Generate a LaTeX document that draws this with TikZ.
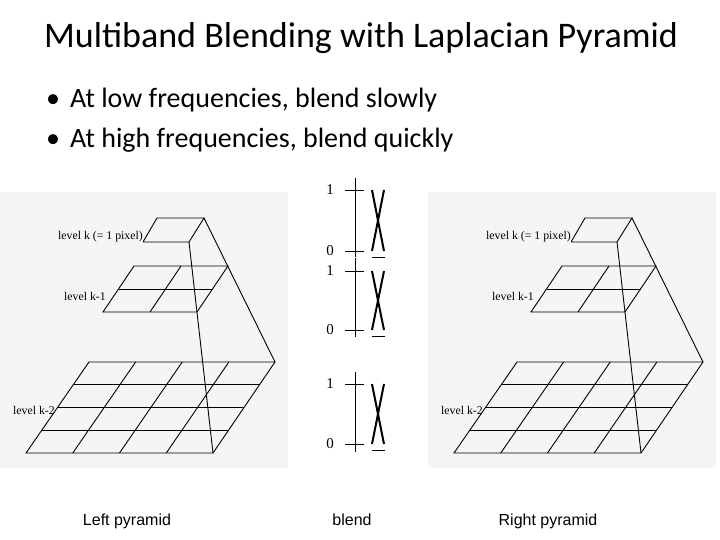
\documentclass[tikz,border=0pt]{standalone}
\usepackage{fontspec}
\setmainfont{Carlito}
\newfontfamily\tnr{Liberation Serif}
\newfontfamily\arl{Liberation Sans}
\definecolor{pbg}{RGB}{244,246,244}
\begin{document}
\begin{tikzpicture}[x=1pt,y=-1pt,
  lab/.style={font=\tnr\fontsize{11.8}{12}\selectfont,inner sep=0pt},
  num/.style={font=\tnr\fontsize{15}{16}\selectfont,inner sep=0pt},
  captext/.style={font=\arl\fontsize{16}{18}\selectfont,inner sep=0pt,anchor=base},
  gl/.style={line width=0.9pt},
  xl/.style={line width=2pt}]
\useasboundingbox[fill=white] (0,0) rectangle (720,540);
\node[anchor=west,inner sep=0pt,font=\fontsize{36}{40}\selectfont] (title) at (44,38) {Multiband Blending with Laplacian Pyramid};
\node[anchor=west,inner sep=0pt,font=\fontsize{28}{32}\selectfont] (b1) at (46,100) {\textbullet\hspace{10pt}At low frequencies, blend slowly};
\node[anchor=west,inner sep=0pt,font=\fontsize{28}{32}\selectfont] (b2) at (46,140) {\textbullet\hspace{10pt}At high frequencies, blend quickly};
\foreach \s/\nm in {0/L,428/R}{
\begin{scope}[xshift=\s]
\fill[pbg] (0,192) rectangle (288,468);
% top
\draw[gl] (157,218) -- (204,218) -- (189,242) -- (143,242) -- cycle;
% k-1
\draw[gl] (134,266) -- (228,266) -- (197,312) -- (103,312) -- cycle;
\draw[gl] (118.5,289) -- (212.5,289);
\draw[gl] (181,266) -- (150,312);
% k-2
\draw[gl] (89,362) -- (275,362) -- (213,453) -- (26,453) -- cycle;
\foreach \i in {1,2,3}{
  \draw[gl] ({89-63*\i/4},{362+91*\i/4}) -- ({275-62*\i/4},{362+91*\i/4});
  \draw[gl] ({89+186.5*\i/4},362) -- ({26+187*\i/4},453);}
\draw[gl] (204,218) -- (275,362);
\draw[gl] (189,242) -- (213,453);
\fill[pbg] (58,230) rectangle (143,243);
\node[lab,anchor=east] (k\nm) at (143,237) {level k (= 1 pixel)};
\node[lab,anchor=east] (k1\nm) at (106,296) {level k-1};
\node[lab,anchor=east] (k2\nm) at (55,410) {level k-2};
\end{scope}}
% blend
\foreach \a/\b/\t/\u [count=\j] in {178/257/190/251,258/337/271/330,372/452/384/444}{
  \draw[line width=0.9pt] (355,\a) -- (355,\b);
  \draw[line width=0.9pt] (345,\t) -- (364,\t);
  \draw[line width=0.9pt] (345,\u) -- (364,\u);
  \node[num] (one\j) at (330,\t) {1};
  \node[num] (zero\j) at (330,\u) {0};
  \draw[xl] (372,\t) -- (384,\u);
  \draw[xl] (384,\t) -- (372,\u);
  \draw[line width=1pt] (372,{\u+6}) -- (385,{\u+6});
}
\node[captext] (lp) at (127,525) {Left pyramid};
\node[captext] (bl) at (352,525) {blend};
\node[captext] (rp) at (548,525) {Right pyramid};
\end{tikzpicture}
\end{document}
